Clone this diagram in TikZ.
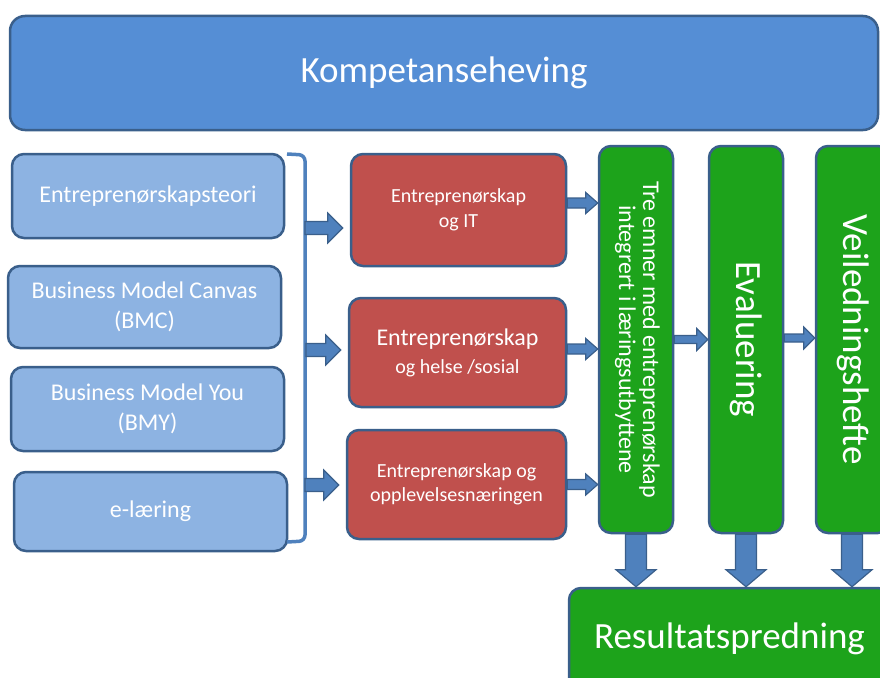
\documentclass[tikz,border=0pt]{standalone}
\usepackage{fontspec}
\setmainfont{Carlito}
\usepackage{graphicx}
\usetikzlibrary{calc}

\definecolor{boxline}{HTML}{3A5F8B}
\definecolor{topblue}{HTML}{558ED5}
\definecolor{lightblue}{HTML}{8DB3E2}
\definecolor{redbox}{HTML}{C0504D}
\definecolor{greenbox}{HTML}{1DA31B}
\definecolor{arrowblue}{HTML}{4F81BD}

\tikzset{
	box/.style={draw=boxline, line width=2.5pt, rounded corners=12pt, text=white, align=center, inner sep=0pt},
	lbox/.style={box, fill=lightblue, font=\fontsize{24}{30}\selectfont},
	rbox/.style={box, fill=redbox, font=\fontsize{20}{25}\selectfont},
	gbox/.style={box, fill=greenbox, minimum width=74pt, minimum height=387pt},
	fatarrow/.style={fill=arrowblue, draw=boxline, line width=1.2pt},
	% #1 half shaft, #2 half head, #3 head length
	rarrow/.style n args={3}{fatarrow, to path={let \p1=(\tikztostart), \p2=(\tikztotarget) in
		(\x1,\y1+#1) -- (\x2-#3,\y1+#1) -- (\x2-#3,\y1+#2) -- (\x2,\y1) -- (\x2-#3,\y1-#2) -- (\x2-#3,\y1-#1) -- (\x1,\y1-#1) -- cycle}},
	darrow/.style n args={3}{fatarrow, to path={let \p1=(\tikztostart), \p2=(\tikztotarget) in
		(\x1-#1,\y1) -- (\x1-#1,\y2+#3) -- (\x1-#2,\y2+#3) -- (\x1,\y2) -- (\x1+#2,\y2+#3) -- (\x1+#1,\y2+#3) -- (\x1+#1,\y1) -- cycle}},
}

\begin{document}
\begin{tikzpicture}[x=1pt, y=-1pt]
		%%%%% START %%%%%
		\useasboundingbox (0, 0) rectangle (880, 677);
		\clip (0, 0) rectangle (880, 677);
		
		\node[box, fill=topblue, rounded corners=15pt, minimum width=868pt, minimum height=114pt, font=\fontsize{37}{44}\selectfont] (komp) at (444, 73) {Kompetanseheving};
		
		\node[lbox, minimum width=272pt, minimum height=84pt] (teori) at (148, 196) {Entreprenørskapsteori};
		\node[lbox, minimum width=273pt, minimum height=82pt] (bmc) at (144.5, 307) {Business Model Canvas\\(BMC)};
		\node[lbox, minimum width=273pt, minimum height=84pt] (bmy) at (147.5, 409) {Business Model You\\(BMY)};
		\node[lbox, minimum width=273pt, minimum height=79pt] (elaering) at (150.5, 511.5) {e-læring};
		
		\draw[color=arrowblue, line width=3.5pt, rounded corners=6pt] (287, 154) -- (305, 155) -- (305, 541) -- (287, 542);
		\coordinate (br1) at (305, 228);
		\coordinate (br2) at (306, 350);
		\coordinate (br3) at (305, 485);
		
		\node[rbox, minimum width=215pt, minimum height=112pt] (it) at (458.5, 210) {Entreprenørskap\\og IT};
		\node[rbox, minimum width=217pt, minimum height=109pt, font=\fontsize{20}{28}\selectfont] (helse) at (457.5, 352.5) {{\fontsize{24}{28}\selectfont Entreprenørskap}\\og helse /sosial};
		\node[rbox, minimum width=219pt, minimum height=109pt, font=\fontsize{20}{23.5}\selectfont] (opplev) at (456.5, 484.5) {Entreprenørskap og\\opplevelsesnæringen};
		
		\draw[rarrow={6.5pt}{15pt}{15pt}] (br1) to ([xshift=-7pt]it.west);
		\draw[rarrow={6.5pt}{15pt}{15pt}] (br2) to ([xshift=-7pt]helse.west);
		\draw[rarrow={6.5pt}{15pt}{15pt}] (br3) to ([xshift=-7pt]opplev.west);
		
		\node[gbox, font=\fontsize{24}{24}\selectfont] (emner) at (636, 339.5) {\rotatebox{-90}{\begin{tabular}{@{}c@{}}Tre emner med entreprenørskap\\integrert i læringsutbyttene\end{tabular}}};
		\node[gbox, font=\fontsize{37}{44}\selectfont] (eval) at (746, 339.5) {\rotatebox{-90}{Evaluering}};
		\node[gbox, font=\fontsize{37}{44}\selectfont] (hefte) at (853, 339.5) {\rotatebox{-90}{Veiledningshefte}};
		
		\draw[rarrow={5pt}{10.5pt}{12pt}] ([yshift=7pt]it.east) to (emner.west);
		\draw[rarrow={5pt}{10.5pt}{12pt}] ([yshift=3.5pt]helse.east) to (emner.west);
		\draw[rarrow={5pt}{10.5pt}{12pt}] (opplev.east) to (emner.west);
		\draw[rarrow={4pt}{11pt}{11pt}] (emner.east) to (eval.west);
		\draw[rarrow={4pt}{11pt}{11pt}] ([yshift=1.5pt]eval.east) to (hefte.west);
		
		\node[box, fill=greenbox, minimum width=321pt, minimum height=102pt, font=\fontsize{37}{44}\selectfont] (spredning) at (729.5, 639) {Resultatspredning};
		
		\draw[darrow={10.5pt}{20pt}{17pt}] (emner.south) to (spredning.north);
		\draw[darrow={10.5pt}{20pt}{17pt}] (eval.south) to (spredning.north);
		\draw[darrow={10.5pt}{20pt}{17pt}] ([xshift=-1pt]hefte.south) to (spredning.north);
		
		%%%%% END %%%%%
	\end{tikzpicture}
\end{document}
